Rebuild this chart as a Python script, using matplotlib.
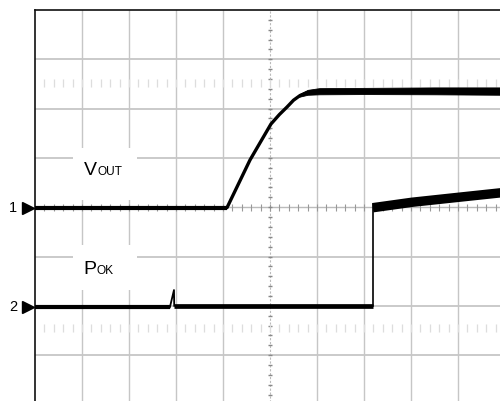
import matplotlib
matplotlib.use("Agg")
import matplotlib.pyplot as plt
from matplotlib.patches import Rectangle

plt.rcParams['font.family'] = ['Liberation Sans', 'DejaVu Sans']

# ---- data (scope divisions: x from left edge, y from bottom) ----
ch1_ground = 3.99
ch2_ground = 1.98

vout_base_x = [0.0, 4.085]
vout_base_y = [3.99, 3.99]
vout_ramp_x = [4.085, 4.574, 5.021, 5.20, 5.362, 5.50, 5.638, 5.75, 5.851, 6.064]
vout_ramp_y = [3.99, 4.957, 5.688, 5.88, 6.032, 6.17, 6.265, 6.31, 6.337, 6.357]
vout_plat_x = [5.62, 5.80, 6.05, 7.0, 8.5, 10.0]
vout_plat_top = [6.29, 6.38, 6.415, 6.42, 6.43, 6.43]
vout_plat_bot = [6.24, 6.28, 6.29, 6.295, 6.29, 6.28]

pok_low1_x = [0.0, 2.87]
pok_low1_y = [1.97, 1.97]
pok_spike_x = [2.87, 2.957, 2.962]
pok_spike_y = [1.97, 2.32, 2.00]
pok_low2_x = [2.96, 7.19]
pok_low2_y = [1.99, 1.99]
pok_step_x = [7.19, 7.19]
pok_step_y = [1.99, 4.07]
pok_high_x = [7.19, 8.02, 9.0, 9.89, 10.0]
pok_high_y = [3.99, 4.10, 4.20, 4.29, 4.30]

labels = ["V", "OUT", "P", "OK"]
ch_markers = ["1", "2"]

# ---- figure ----
W, H = 500, 401
fig = plt.figure(figsize=(W / 100, H / 100), dpi=100)
px_per_div_x = 47.0
px_per_div_y = 49.3
left_px, top_px = 35.0, 10.0
bottom_px = top_px + 8 * px_per_div_y
ax = fig.add_axes([left_px / W, (H - bottom_px) / H,
                   10 * px_per_div_x / W, 8 * px_per_div_y / H])
ax.set_xlim(0, 10)
ax.set_ylim(0, 8)
ax.set_xticks([])
ax.set_yticks([])
for s in ['right', 'bottom']:
    ax.spines[s].set_visible(False)
for s in ['top', 'left']:
    ax.spines[s].set_color('#111111')
    ax.spines[s].set_linewidth(1.2)

gc = '#c6c6c6'
for xv in range(1, 10):
    if xv == 5:
        continue
    ax.axvline(xv, color=gc, lw=1.0, zorder=1)
for yv in range(1, 8):
    if yv == 4:
        continue
    ax.axhline(yv, color=gc, lw=1.3, zorder=1)

# center cross with ticks
ax.axvline(5, color='#bbbbbb', lw=0.8, ls=(0, (2, 1.5)), zorder=1)
ax.axhline(4, color='#bbbbbb', lw=1.0, zorder=1)
tk = [i * 0.2 for i in range(1, 50)]
ax.vlines(tk, 4 - 0.07, 4 + 0.07, color='#999999', lw=0.8, zorder=1)
tky = [i * 0.2 for i in range(1, 40)]
ax.hlines(tky, 5 - 0.05, 5 + 0.05, color='#888888', lw=1.0, zorder=1)

# faint reference rows
for yr in (6.52, 1.55):
    ax.vlines(tk, yr - 0.09, yr + 0.09, color='#dddddd', lw=0.9, zorder=1)

# label boxes
ax.add_patch(Rectangle((0.81, 4.15), 1.36, 1.05, facecolor='white',
                       edgecolor='none', zorder=2))
ax.add_patch(Rectangle((0.81, 2.32), 1.36, 0.92, facecolor='white',
                       edgecolor='none', zorder=2))

# traces
k = 'black'
ax.plot(vout_base_x, vout_base_y, color=k, lw=3.0, solid_capstyle='butt', zorder=4)
ax.plot(vout_ramp_x, vout_ramp_y, color=k, lw=2.4, solid_capstyle='round',
        solid_joinstyle='round', zorder=4)
ax.fill_between(vout_plat_x, vout_plat_bot, vout_plat_top, color=k, lw=0.6,
                edgecolor=k, zorder=4)

ax.plot(pok_low1_x, pok_low1_y, color=k, lw=3.0, solid_capstyle='butt', zorder=4)
ax.plot(pok_spike_x, pok_spike_y, color=k, lw=1.3, zorder=4)
ax.plot(pok_low2_x, pok_low2_y, color=k, lw=3.4, solid_capstyle='butt', zorder=4)
ax.plot(pok_step_x, pok_step_y, color=k, lw=1.2, zorder=4)
ax.plot(pok_high_x, pok_high_y, color=k, lw=6.8, solid_capstyle='butt',
        solid_joinstyle='round', zorder=4)

# labels (baseline aligned, subscript-like small text)
def ytxt(px):
    return (bottom_px - px) / px_per_div_y

def xtxt(px):
    return (px - left_px) / px_per_div_x

ax.text(xtxt(83.5), ytxt(175.5), labels[0], fontsize=14, va='baseline', ha='left', zorder=5)
ax.text(xtxt(97), ytxt(175.5), labels[1], fontsize=8.6, va='baseline', ha='left', zorder=5)
ax.text(xtxt(83.5), ytxt(274.5), labels[2], fontsize=14, va='baseline', ha='left', zorder=5)
ax.text(xtxt(96.5), ytxt(274.5), labels[3], fontsize=8.6, va='baseline', ha='left', zorder=5)

# channel markers
for lab, gy, xl in ((ch_markers[0], ch1_ground, 13.0), (ch_markers[1], ch2_ground, 13.0)):
    ax.text(xtxt(xl), gy, lab, fontsize=10.5, va='center', ha='center', clip_on=False)
    ax.plot([xtxt(28)], [gy], marker='>', color='black', markersize=8.5,
            clip_on=False, zorder=6)

fig.savefig('out.png', dpi=100)
